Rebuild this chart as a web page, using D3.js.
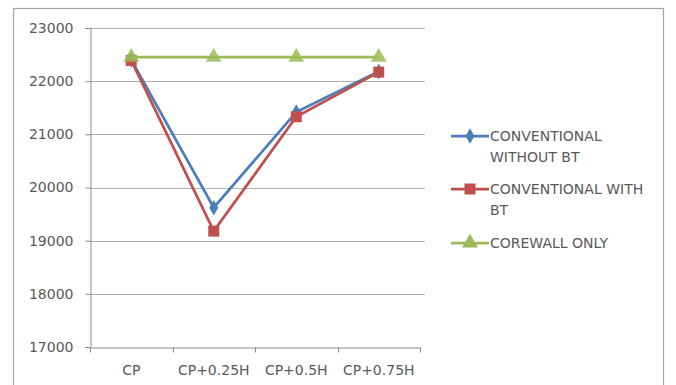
<!DOCTYPE html>
<html><head><meta charset="utf-8">
<script src="https://cdn.jsdelivr.net/npm/d3@7"></script>
<style>body{margin:0;background:#fff}svg{display:block}text{font-family:"DejaVu Sans",sans-serif;fill:#595959}</style>
</head><body>
<script>
const categories = ["CP","CP+0.25H","CP+0.5H","CP+0.75H"];
const seriesNames = ["CONVENTIONAL WITHOUT BT","CONVENTIONAL WITH BT","COREWALL ONLY"];
const withoutBT = [22400, 19620, 21420, 22180];
const withBT = [22390, 19180, 21330, 22170];
const corewall = [22450, 22450, 22450, 22450];
const yTicks = [17000,18000,19000,20000,21000,22000,23000];

const W=676,H=385;
const svg=d3.select("body").append("svg").attr("width",W).attr("height",H);
svg.append("rect").attr("x",13.5).attr("y",8.5).attr("width",650).attr("height",400)
  .attr("fill","#fff").attr("stroke","#a6a6a6").attr("stroke-width",1.2);

const x=d3.scaleBand().domain(categories).range([90,420]);
const y=d3.scaleLinear().domain([17000,23000]).range([347,28]);

svg.append("g").selectAll("line").data(yTicks.slice(1)).join("line")
  .attr("x1",90).attr("x2",425).attr("y1",d=>Math.round(y(d))+0.5).attr("y2",d=>Math.round(y(d))+0.5)
  .attr("stroke","#b3b3b3").attr("stroke-width",1);

const yAxis=svg.append("g").attr("transform","translate(90.5,0)")
  .call(d3.axisLeft(y).tickValues(yTicks).tickSize(5).tickPadding(12).tickFormat(d3.format("d")));
yAxis.select(".domain").attr("stroke","#8c8c8c");
yAxis.selectAll(".tick line").attr("stroke","#8c8c8c");
yAxis.selectAll("text").attr("font-size",14).style("fill","#595959").attr("font-family","DejaVu Sans");

const xAxis=svg.append("g").attr("transform",`translate(0,${Math.round(y(17000))+0.5})`)
  .call(d3.axisBottom(x).tickSize(0).tickPadding(18));
xAxis.select(".domain").attr("stroke","#8c8c8c");
xAxis.selectAll("text").attr("font-size",14).style("fill","#595959").attr("font-family","DejaVu Sans");
const bounds=categories.map(c=>x(c)).concat([x.range()[1]]);
xAxis.selectAll(".bt").data(bounds).join("line").attr("class","bt")
  .attr("x1",d=>Math.round(d)+0.5).attr("x2",d=>Math.round(d)+0.5).attr("y1",0).attr("y2",5)
  .attr("stroke","#8c8c8c");

const cx=c=>x(c)+x.bandwidth()/2;
const colors=["#4A7EBB","#C0504D","#9BBB59"];
const data=[withoutBT,withBT,corewall];
const line=d3.line().x((d,i)=>cx(categories[i])).y(d=>y(d));
const symbols=[d3.symbolDiamond,d3.symbolSquare,d3.symbolTriangle];
const sizes=[70,121,110];

data.forEach((vals,k)=>{
  svg.append("path").attr("d",line(vals)).attr("fill","none").attr("stroke",colors[k]).attr("stroke-width",2.75);
  svg.append("g").selectAll("path").data(vals).join("path")
    .attr("transform",(d,i)=>`translate(${cx(categories[i])},${y(d)})`)
    .attr("d",d3.symbol().type(symbols[k]).size(sizes[k])).attr("fill",colors[k])
    .attr("fill-opacity",k===2?0.85:1);
});

const leg=[
  {lines:["CONVENTIONAL","WITHOUT BT"],y:136},
  {lines:["CONVENTIONAL WITH","BT"],y:189},
  {lines:["COREWALL ONLY"],y:243}
];
leg.forEach((l,k)=>{
  const g=svg.append("g");
  g.append("line").attr("x1",451).attr("x2",489).attr("y1",l.y).attr("y2",l.y).attr("stroke",colors[k]).attr("stroke-width",2.75);
  g.append("path").attr("transform",`translate(470,${l.y})`).attr("d",d3.symbol().type(symbols[k]).size(sizes[k])).attr("fill",colors[k]);
  l.lines.forEach((t,j)=>{
    g.append("text").attr("x",490).attr("y",l.y+j*21).attr("dy","0.36em").attr("font-size",14).text(t);
  });
});
</script>
</body></html>
